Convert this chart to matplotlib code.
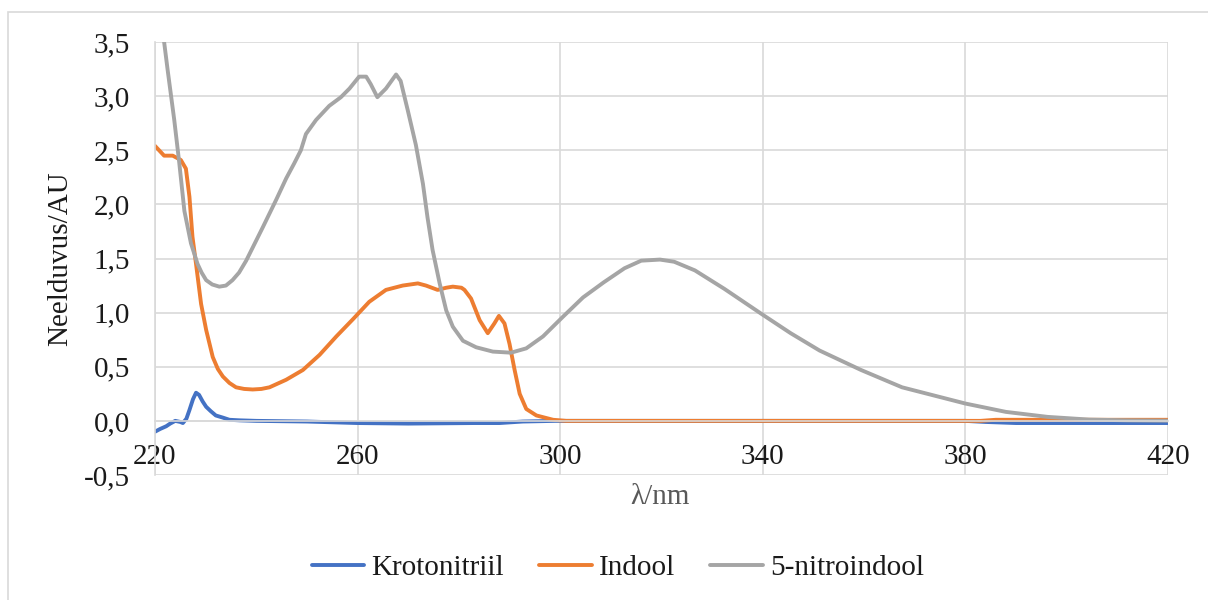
import numpy as np
import matplotlib
matplotlib.use("Agg")
import matplotlib.pyplot as plt
from matplotlib.patches import Rectangle

# ------------------------------------------------------------
# Andmed (loetud graafikult)
# ------------------------------------------------------------
kroto_x = [220, 221, 222.2, 223, 224, 225, 225.5, 226.2, 226.8, 227.5, 228.1, 228.7,
           229.4, 230.1, 231, 232, 233.4, 234.7, 236.7, 240, 250, 260, 270, 283, 288,
           292.6, 299, 310, 340, 380, 384, 390, 420]
kroto_y = [-0.10, -0.075, -0.05, -0.025, 0.0, -0.01, -0.02, 0.02, 0.10, 0.20, 0.26, 0.24,
           0.18, 0.13, 0.09, 0.05, 0.03, 0.01, 0.005, 0.0, -0.006, -0.02, -0.025, -0.02, -0.02,
           -0.006, 0.0, 0.0, 0.0, 0.0, -0.01, -0.02, -0.02]

indool_x = [220, 221, 221.8, 223.5, 225.1, 226.1, 226.8, 227.4, 228.1, 229.1, 230.1, 231.4,
            232.4, 233.4, 234.7, 236, 237.6, 239.3, 241, 242.6, 245.9, 249.2, 252.5, 255.8,
            259.1, 262.3, 265.6, 268.9, 271.9, 273.5, 275.8, 277.5, 278.8, 280.5, 281.1,
            282.4, 284.1, 285.7, 287, 287.9, 289, 290, 291, 292, 293.3, 295.3, 298.6, 301.2,
            320, 350, 383, 386, 400, 420]
indool_y = [2.54, 2.49, 2.45, 2.45, 2.41, 2.33, 2.07, 1.70, 1.45, 1.08, 0.84, 0.59,
            0.48, 0.41, 0.35, 0.31, 0.295, 0.29, 0.295, 0.31, 0.38, 0.47, 0.61, 0.78,
            0.94, 1.10, 1.21, 1.25, 1.27, 1.25, 1.21, 1.23, 1.24, 1.23, 1.21,
            1.13, 0.93, 0.81, 0.90, 0.97, 0.90, 0.71, 0.47, 0.25, 0.11, 0.05, 0.01, 0.0,
            0.0, 0.0, 0.0, 0.01, 0.01, 0.01]

nitro_x = [220, 221, 221.8, 222.5, 223.8, 224.8, 225.8, 227.1, 228.4, 229.2, 230.1, 231.3,
           232.7, 234, 235.3, 236.6, 238.0, 241.3, 243.9, 245.9, 247.5, 248.8, 249.8, 251.8,
           254.4, 256.7, 258.4, 260.3, 261.7, 262.6, 263.9, 265.6, 267.6, 268.5, 269.9,
           271.5, 272.9, 273.8, 274.8, 276.2, 277.5, 278.8, 280.8, 283.4, 286.7, 290.3,
           293.3, 296.6, 300.5, 304.5, 308.6, 312.7, 316, 319.7, 322.5, 326.6, 332.4, 340,
           345.5, 351.2, 359.4, 367.5, 380, 388, 396.2, 404.4, 412, 420]
nitro_y = [5.0, 4.1, 3.5, 3.24, 2.78, 2.38, 1.94, 1.64, 1.45, 1.37, 1.30, 1.26,
           1.24, 1.25, 1.30, 1.37, 1.48, 1.79, 2.04, 2.24, 2.38, 2.50, 2.65, 2.78,
           2.91, 2.99, 3.07, 3.18, 3.18, 3.11, 2.99, 3.07, 3.20, 3.14, 2.87,
           2.55, 2.19, 1.88, 1.58, 1.27, 1.02, 0.87, 0.74, 0.68, 0.64, 0.63,
           0.67, 0.78, 0.96, 1.14, 1.28, 1.41, 1.48, 1.49, 1.47, 1.39, 1.22, 0.98,
           0.81, 0.65, 0.47, 0.31, 0.16, 0.083, 0.037, 0.012, 0.005, 0.002]

x_ticks = [220, 260, 300, 340, 380, 420]
y_ticks = [-0.5, 0.0, 0.5, 1.0, 1.5, 2.0, 2.5, 3.0, 3.5]
y_labels = ["-0,5", "0,0", "0,5", "1,0", "1,5", "2,0", "2,5", "3,0", "3,5"]

# ------------------------------------------------------------
# Joonis
# ------------------------------------------------------------
plt.rcParams['font.family'] = ['Liberation Serif', 'DejaVu Serif']
FS = 21
GRID = '#d9d9d9'
W, H = 1208, 600

fig = plt.figure(figsize=(W / 100, H / 100), dpi=100)
fig.patch.set_facecolor('white')

# raam ümber diagrammi
fig.add_artist(Rectangle((8 / W, -0.1), 1.2, 1 - 12 / H + 0.1, transform=fig.transFigure,
                         fill=False, ec=GRID, lw=1.2))

left, right, top, bottom = 155, 1168, 42, 475
ax = fig.add_axes([left / W, 1 - bottom / H, (right - left) / W, (bottom - top) / H])

kw = dict(lw=2.8, solid_capstyle='round', solid_joinstyle='round')
ax.plot(kroto_x, kroto_y, color='#4472C4', label='Krotonitriil', **kw)
ax.plot(indool_x, indool_y, color='#ED7D31', label='Indool', **kw)
ax.plot(nitro_x, nitro_y, color='#A5A5A5', label='5-nitroindool', **kw)

ax.set_xlim(220, 420)
ax.set_ylim(-0.5, 3.5)
ax.set_xticks(x_ticks)
ax.set_yticks(y_ticks)
ax.set_yticklabels(y_labels)

ax.grid(True, color=GRID, lw=1.2)
ax.set_axisbelow(True)
for s in ['top', 'right']:
    ax.spines[s].set_visible(False)
ax.spines['left'].set_color(GRID)
ax.spines['left'].set_linewidth(1.2)
ax.spines['bottom'].set_position(('data', 0))
ax.spines['bottom'].set_color(GRID)
ax.spines['bottom'].set_linewidth(1.2)

ax.tick_params(axis='both', length=0, labelsize=FS, labelcolor='#1a1a1a')
ax.tick_params(axis='y', pad=18)
ax.tick_params(axis='x', pad=17)

fig.text(60 / W, 1 - 259 / H, 'Neelduvus/AU', rotation=90, ha='center', va='center',
         fontsize=FS, color='#1a1a1a')
fig.text(660 / W, 1 - 497 / H, 'λ/nm', ha='center', va='center', fontsize=FS,
         color='#595959')

fig.legend(loc='center', bbox_to_anchor=(618 / W, 1 - 568 / H), ncol=3, frameon=False,
           fontsize=FS, handlelength=1.8, handletextpad=0.25, columnspacing=1.2,
           labelcolor='#1a1a1a')

fig.savefig('out.png', dpi=100)
